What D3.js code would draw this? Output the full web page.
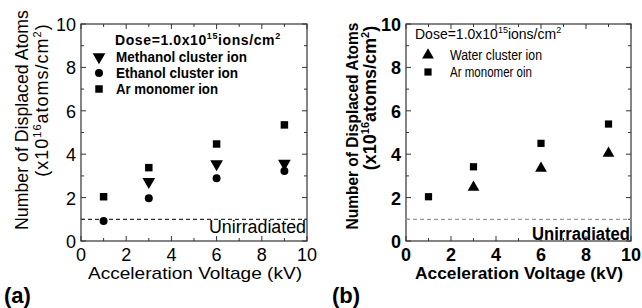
<!DOCTYPE html>
<html>
<head>
<meta charset="utf-8">
<script src="https://cdn.jsdelivr.net/npm/d3@7"></script>
<style>
  body { margin: 0; background: #fff; }
  svg { display: block; }
</style>
</head>
<body>
<svg id="chart" width="642" height="308"></svg>
<script>
// voltages (kV)
const voltages = [1, 3, 6, 9]
const voltagesWater = [3, 6, 9]

// panel (a) values, x10^16 atoms/cm^2
const methanolA = [null, 2.73, 3.55, 3.57]
const ethanolA = [0.92, 1.97, 2.89, 3.23]
const argonA = [2.04, 3.38, 4.47, 5.35]

// panel (b)
const waterB = [2.47, 3.35, 4.04]
const argonB = [2.04, 3.42, 4.5, 5.39]

const unirradiated = 1.0
const ticks = [0, 2, 4, 6, 8, 10]

const svg = d3.select('#chart')

function fitText(sel, len) {
  return sel.attr('textLength', len).attr('lengthAdjust', 'spacingAndGlyphs')
}

function drawPanel(cfg) {
  const g = svg.append('g')
  const x = d3.scaleLinear().domain([0, 10]).range([cfg.left, cfg.right])
  const y = d3.scaleLinear().domain([0, 10]).range([cfg.bottom, cfg.top])
  const font = cfg.font
  const weight = cfg.weight

  // frame
  g.append('rect')
    .attr('x', cfg.left).attr('y', cfg.top)
    .attr('width', cfg.right - cfg.left).attr('height', cfg.bottom - cfg.top)
    .attr('fill', 'none').attr('stroke', '#333').attr('stroke-width', 1.2)

  // inward ticks on all sides
  d3.range(0, 11).forEach(v => {
    const len = v % 2 === 0 ? 5 : 3
    g.append('line').attr('x1', x(v)).attr('x2', x(v))
      .attr('y1', cfg.bottom).attr('y2', cfg.bottom - len).attr('stroke', '#333')
    g.append('line').attr('x1', x(v)).attr('x2', x(v))
      .attr('y1', cfg.top).attr('y2', cfg.top + len).attr('stroke', '#333')
    g.append('line').attr('y1', y(v)).attr('y2', y(v))
      .attr('x1', cfg.left).attr('x2', cfg.left + len).attr('stroke', '#333')
    g.append('line').attr('y1', y(v)).attr('y2', y(v))
      .attr('x1', cfg.right).attr('x2', cfg.right - len).attr('stroke', '#333')
  })

  // tick labels
  g.selectAll('.xl').data(ticks).enter().append('text')
    .attr('x', d => x(d)).attr('y', 261)
    .attr('text-anchor', 'middle')
    .attr('font-family', font).attr('font-weight', weight).attr('font-size', 18)
    .text(d => d)
  g.selectAll('.yl').data(ticks).enter().append('text')
    .attr('x', cfg.left - 5).attr('y', d => y(d) + 7)
    .attr('text-anchor', 'end')
    .attr('font-family', font).attr('font-weight', weight).attr('font-size', 18)
    .text(d => d)

  // axis titles
  fitText(g.append('text')
    .attr('x', cfg.xtX).attr('y', 279)
    .attr('text-anchor', 'middle')
    .attr('font-family', font).attr('font-weight', weight).attr('font-size', 17)
    .text('Acceleration Voltage (kV)'), cfg.xtLen)

  fitText(g.append('text')
    .attr('transform', `translate(${cfg.ytx1},${cfg.yty1}) rotate(-90)`)
    .attr('text-anchor', 'middle')
    .attr('font-family', font).attr('font-weight', weight).attr('font-size', cfg.yt1Size)
    .text('Number of Displaced Atoms'), cfg.yt1Len)
  const yt2 = g.append('text')
    .attr('transform', `translate(${cfg.ytx2},${cfg.yty2}) rotate(-90)`)
    .attr('text-anchor', 'middle')
    .attr('font-family', font).attr('font-weight', weight).attr('font-size', 18)
    .attr('letter-spacing', cfg.yt2Spacing)
  yt2.append('tspan').text('(x10')
  yt2.append('tspan').attr('dy', -7).attr('font-size', 11).text('16')
  yt2.append('tspan').attr('dy', 7).text('atoms/cm')
  yt2.append('tspan').attr('dy', -7).attr('font-size', 11).text('2')
  yt2.append('tspan').attr('dy', 7).text(')')

  // unirradiated level
  g.append('line')
    .attr('x1', x(0)).attr('x2', x(10))
    .attr('y1', y(unirradiated)).attr('y2', y(unirradiated))
    .attr('stroke', cfg.dashColor).attr('stroke-width', 1.2)
    .attr('stroke-dasharray', '4,3')
  fitText(g.append('text')
    .attr('x', cfg.right - 1).attr('y', cfg.unY)
    .attr('text-anchor', 'end')
    .attr('font-family', font).attr('font-weight', weight).attr('font-size', 18)
    .text('Unirradiated'), cfg.unLen)

  // legend
  const dose = g.append('text')
    .attr('x', cfg.legX).attr('y', cfg.legY[0])
    .attr('font-family', cfg.legFont).attr('font-weight', cfg.legWeight).attr('font-size', 14)
    .attr('letter-spacing', cfg.doseSpacing)
  dose.append('tspan').text('Dose=1.0x10')
  dose.append('tspan').attr('dy', -6).attr('font-size', 9).text('15')
  dose.append('tspan').attr('dy', 6).text('ions/cm')
  dose.append('tspan').attr('dy', -6).attr('font-size', 9).text('2')

  cfg.series.forEach((s, i) => {
    const ly = cfg.legY[i + 1]
    g.append('path')
      .attr('d', d3.symbol().type(s.type).size(s.size)())
      .attr('transform', `translate(${cfg.legSymX},${ly - 5})${s.rot ? ' rotate(180)' : ''}`)
      .attr('fill', '#000')
    fitText(g.append('text')
      .attr('x', cfg.legTextX).attr('y', ly)
      .attr('font-family', cfg.legFont).attr('font-weight', cfg.legWeight).attr('font-size', 14)
      .text(s.name), s.len)

    g.selectAll(null).data(s.values.map((v, j) => [s.xs[j], v]).filter(d => d[1] != null))
      .enter().append('path')
      .attr('d', d3.symbol().type(s.type).size(s.size)())
      .attr('transform', d => `translate(${x(d[0])},${y(d[1])})${s.rot ? ' rotate(180)' : ''}`)
      .attr('fill', '#000')
  })

  g.append('text')
    .attr('x', cfg.labX).attr('y', 303)
    .attr('font-family', 'Liberation Sans, Arial, sans-serif').attr('font-weight', 'bold')
    .attr('font-size', 22)
    .text(cfg.label)
}

drawPanel({
  left: 81, right: 307, top: 24, bottom: 241,
  font: 'Liberation Sans, Arial, sans-serif', weight: 'normal',
  xtX: 195, xtLen: 214,
  ytx1: 28, yty1: 120, yt1Size: 18, yt1Len: 220, ytx2: 48, yty2: 100, yt2Spacing: 1,
  unY: 233, unLen: 97,
  dashColor: '#333',
  legX: 115, legY: [45, 62, 78, 94], doseSpacing: 0.6, legSymX: 99, legTextX: 116,
  legFont: 'Liberation Sans, Arial, sans-serif', legWeight: 'bold',
  label: '(a)', labX: 4,
  series: [
    { name: 'Methanol cluster ion', len: 131, type: d3.symbolTriangle, size: 70, rot: true, xs: voltages, values: methanolA },
    { name: 'Ethanol cluster ion', len: 122, type: d3.symbolCircle, size: 50, xs: voltages, values: ethanolA },
    { name: 'Ar monomer ion', len: 102, type: d3.symbolSquare, size: 56, xs: voltages, values: argonA }
  ]
})

drawPanel({
  left: 406, right: 631, top: 24, bottom: 241,
  font: 'Liberation Sans, Arial, sans-serif', weight: 'bold',
  xtX: 519, xtLen: 208,
  ytx1: 358, yty1: 126, yt1Size: 17, yt1Len: 207, ytx2: 376, yty2: 98, yt2Spacing: 0,
  unY: 240, unLen: 98,
  dashColor: '#999',
  legX: 415, legY: [39, 60, 77], doseSpacing: 0, legSymX: 428, legTextX: 450,
  legFont: 'Liberation Sans, Arial, sans-serif', legWeight: 'normal',
  label: '(b)', labX: 332,
  series: [
    { name: 'Water cluster ion', len: 92, type: d3.symbolTriangle, size: 60, xs: voltagesWater, values: waterB },
    { name: 'Ar monomer oin', len: 82, type: d3.symbolSquare, size: 52, xs: voltages, values: argonB }
  ]
})
</script>
</body>
</html>
